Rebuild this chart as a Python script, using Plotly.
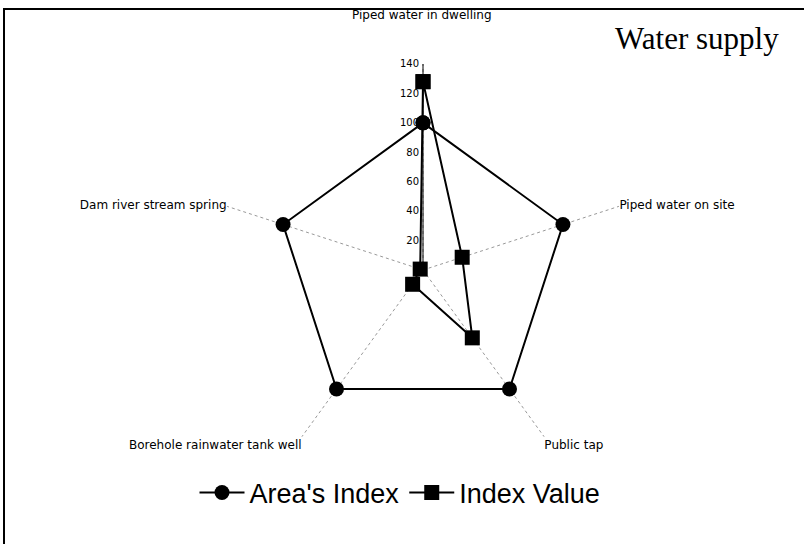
import plotly.graph_objects as go

categories = ["Piped water in dwelling", "Piped water on site", "Public tap",
              "Borehole rainwater tank well", "Dam river stream spring"]
category_labels = ["", "Piped water on site", "Public tap",
                   "Borehole rainwater tank well", "Dam river stream spring"]
area_index = [100, 100, 100, 100, 100]
index_value = [128, 28, 57, 12, 2]
radial_ticks = [0, 20, 40, 60, 80, 100, 120, 140]

W, H = 804, 544

def closed(v):
    return list(v) + [v[0]]

def px(x):
    return x / W

def py(y):
    return 1 - y / H

fig = go.Figure()
fig.add_trace(go.Scatterpolar(
    r=closed(area_index), theta=closed(categories), name="Area's Index",
    mode="lines+markers", line=dict(color="black", width=2),
    marker=dict(symbol="circle", size=15, color="black")))
fig.add_trace(go.Scatterpolar(
    r=closed(index_value), theta=closed(categories), name="Index Value",
    mode="lines+markers", line=dict(color="black", width=2),
    marker=dict(symbol="square", size=15, color="black")))

fig.update_layout(
    width=W, height=H,
    margin=dict(l=0, r=0, t=0, b=0),
    paper_bgcolor="white", plot_bgcolor="white",
    font=dict(family="Liberation Sans, Arial", color="black"),
    polar=dict(
        domain=dict(x=[px(217), px(629)], y=[py(476), py(64)]),
        bgcolor="white",
        angularaxis=dict(direction="clockwise", rotation=90,
                         showline=False, showgrid=True,
                         gridcolor="#999999", griddash="dot", gridwidth=1,
                         tickmode="array", tickvals=categories, ticktext=category_labels,
                         ticks="", tickfont=dict(size=12, family="DejaVu Sans", color="black")),
        radialaxis=dict(range=[0, 140], tickvals=radial_ticks, angle=90, tickangle=90,
                        side="counterclockwise",
                        showline=True, linecolor="black", linewidth=1,
                        showgrid=False, ticks="",
                        tickfont=dict(size=10, family="DejaVu Sans", color="black")),
    ),
    showlegend=True,
    legend=dict(orientation="h", x=px(400), xanchor="center", y=py(493), yanchor="middle",
                itemwidth=45,
                font=dict(size=27, family="Liberation Sans, Arial", color="black")),
    annotations=[
        dict(text="Water supply", x=px(781), y=py(39), xref="paper", yref="paper",
             showarrow=False, xanchor="right", yanchor="middle",
             font=dict(family="Liberation Serif, Times New Roman", size=31, color="black")),
        dict(text=categories[0], x=px(422), y=py(15), xref="paper", yref="paper",
             showarrow=False, xanchor="center", yanchor="middle",
             font=dict(family="DejaVu Sans", size=12, color="black")),
    ],
)

fig.add_shape(type="line", xref="paper", yref="paper", x0=px(3), x1=1, y0=py(9), y1=py(9),
              line=dict(color="black", width=2))
fig.add_shape(type="line", xref="paper", yref="paper", x0=px(4), x1=px(4), y0=0, y1=py(9),
              line=dict(color="black", width=2))

fig.write_html("out.html", config={"displayModeBar": False},
               post_script="document.body.style.margin='0';")
